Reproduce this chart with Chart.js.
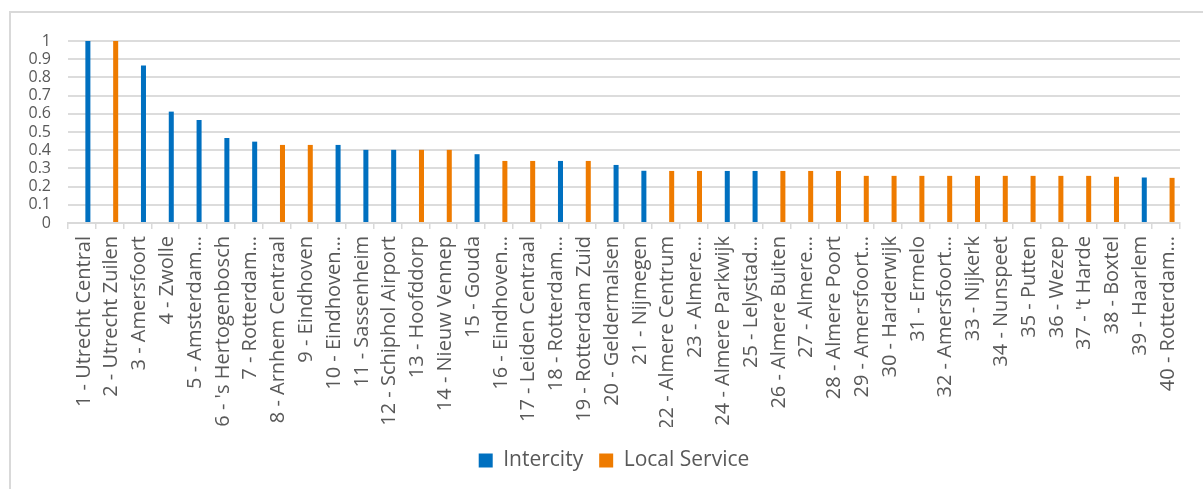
<!DOCTYPE html>
<html>
<head>
<meta charset="utf-8">
<script src="https://cdn.jsdelivr.net/npm/chart.js@4"></script>
<style>
html,body{margin:0;padding:0;background:#fff;}
#wrap{position:relative;width:1203px;height:489px;overflow:hidden;}
#frame{position:absolute;left:9px;top:11px;width:1300px;height:600px;border-top:2px solid #d9d9d9;border-left:2px solid #d9d9d9;box-sizing:border-box;}
canvas{position:absolute;left:0;top:0;}
</style>
</head>
<body>
<div id="wrap">
<div id="frame"></div>
<canvas id="c" width="1203" height="489"></canvas>
</div>
<script>
const categories = [
  "1 - Utrecht Central", "2 - Utrecht Zuilen", "3 - Amersfoort", "4 - Zwolle",
  "5 - Amsterdam\u2026", "6 - 's Hertogenbosch", "7 - Rotterdam\u2026", "8 - Arnhem Centraal",
  "9 - Eindhoven", "10 - Eindhoven\u2026", "11 - Sassenheim", "12 - Schiphol Airport",
  "13 - Hoofddorp", "14 - Nieuw Vennep", "15 - Gouda", "16 - Eindhoven\u2026",
  "17 - Leiden Centraal", "18 - Rotterdam\u2026", "19 - Rotterdam Zuid", "20 - Geldermalsen",
  "21 - Nijmegen", "22 - Almere Centrum", "23 - Almere\u2026", "24 - Almere Parkwijk",
  "25 - Lelystad\u2026", "26 - Almere Buiten", "27 - Almere\u2026", "28 - Almere Poort",
  "29 - Amersfoort\u2026", "30 - Harderwijk", "31 - Ermelo", "32 - Amersfoort\u2026",
  "33 - Nijkerk", "34 - Nunspeet", "35 - Putten", "36 - Wezep",
  "37 - 't Harde", "38 - Boxtel", "39 - Haarlem", "40 - Rotterdam\u2026"
];
const intercity = [
  1.0, null, 0.865, 0.612, 0.566, 0.467, 0.447, null, null, 0.429,
  0.402, 0.402, null, null, 0.378, null, null, 0.341, null, 0.319,
  0.287, null, null, 0.286, 0.286, null, null, null, null, null,
  null, null, null, null, null, null, null, null, 0.250, null
];
const localService = [
  null, 1.0, null, null, null, null, null, 0.429, 0.429, null,
  null, null, 0.402, 0.402, null, 0.341, 0.341, null, 0.341, null,
  null, 0.286, 0.286, null, null, 0.286, 0.286, 0.286, 0.259, 0.259,
  0.259, 0.259, 0.259, 0.259, 0.259, 0.259, 0.259, 0.254, null, 0.248
];
const seriesNames = ["Intercity", "Local Service"];
const yTickLabels = ["0","0.1","0.2","0.3","0.4","0.5","0.6","0.7","0.8","0.9","1"];
const emptySlot = categories.map(() => null);

const FONT = "'Open Sans', 'Noto Sans', sans-serif";
const TEXT = "#595959";
const barOpts = { categoryPercentage: 0.86, barPercentage: 0.42, borderWidth: 0 };

const legendShift = {
  id: 'legendShift',
  afterLayout(chart) {
    const lg = chart.legend;
    if (lg) { lg.left += 24; lg.right += 24; lg.top += 7; lg.bottom += 7; }
  }
};

new Chart(document.getElementById('c'), {
  type: 'bar',
  data: {
    labels: categories,
    datasets: [
      Object.assign({ label: '', data: emptySlot, stack: 'gap', backgroundColor: 'rgba(0,0,0,0)' }, barOpts),
      Object.assign({ label: seriesNames[0], data: intercity, stack: 'main', backgroundColor: '#0070C0' }, barOpts),
      Object.assign({ label: seriesNames[1], data: localService, stack: 'main', backgroundColor: '#EE7B00' }, barOpts)
    ]
  },
  plugins: [legendShift],
  options: {
    responsive: false,
    animation: false,
    layout: { padding: { left: 0, right: 23, top: 41, bottom: 15 } },
    plugins: {
      legend: {
        position: 'bottom',
        labels: {
          boxWidth: 14, boxHeight: 14, padding: 16,
          color: TEXT, font: { family: FONT, size: 21 },
          filter: (item) => item.datasetIndex > 0
        }
      },
      tooltip: { enabled: false }
    },
    scales: {
      x: {
        stacked: true,
        grid: { display: true, drawOnChartArea: false, offset: true, tickLength: 6, color: '#d9d9d9', lineWidth: 1.5 },
        border: { display: true, color: '#d9d9d9', width: 2 },
        ticks: {
          autoSkip: false, maxRotation: 90, minRotation: 90, padding: 7, labelOffset: 2,
          color: TEXT, font: { family: FONT, size: 20 }
        },
        afterFit: (s) => { s.height = 204; }
      },
      y: {
        stacked: false,
        min: 0, max: 1,
        grid: { color: '#dcdcdc', lineWidth: 2, drawTicks: false },
        border: { display: false },
        ticks: {
          autoSkip: false, stepSize: 0.1, padding: 17, color: TEXT, font: { family: FONT, size: 16 },
          callback: (v) => yTickLabels[Math.round(v * 10)]
        },
        afterFit: (s) => { s.width = 68; }
      }
    }
  }
});
</script>
</body>
</html>
